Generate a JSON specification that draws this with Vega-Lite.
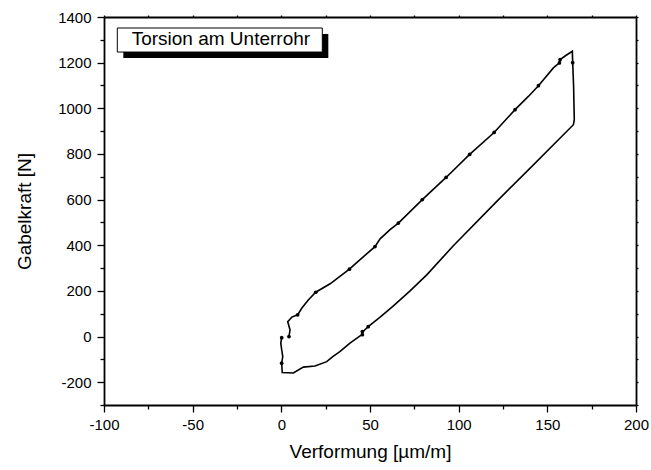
{
  "$schema": "https://vega.github.io/schema/vega-lite/v6.json",
  "width": 532,
  "height": 388,
  "autosize": {"type": "none"},
  "padding": {"left": 104, "top": 17, "right": 15, "bottom": 65},
  "background": "white",
  "config": {
    "view": {"stroke": null},
    "font": "Liberation Sans",
    "axis": {
      "domainColor": "black",
      "domainWidth": 1.8,
      "tickColor": "black",
      "tickWidth": 1.3,
      "labelColor": "black",
      "titleColor": "black",
      "labelFont": "Liberation Sans",
      "titleFont": "Liberation Sans",
      "labelFontSize": 15,
      "titleFontSize": 19,
      "titleFontWeight": "normal",
      "grid": false
    }
  },
  "datasets": {
    "loop": [
      {"i": 1, "x": 0.2, "y": -5, "dot": 1},
      {"i": 2, "x": -0.3, "y": -29, "dot": 0},
      {"i": 3, "x": 0.2, "y": -58, "dot": 0},
      {"i": 4, "x": 0.8, "y": -88, "dot": 0},
      {"i": 5, "x": 0.2, "y": -117, "dot": 1},
      {"i": 6, "x": 0.5, "y": -158, "dot": 0},
      {"i": 7, "x": 6.8, "y": -160, "dot": 0},
      {"i": 8, "x": 12.4, "y": -134, "dot": 0},
      {"i": 9, "x": 19, "y": -129, "dot": 0},
      {"i": 10, "x": 25.6, "y": -110, "dot": 0},
      {"i": 11, "x": 29, "y": -88, "dot": 0},
      {"i": 12, "x": 33, "y": -66, "dot": 0},
      {"i": 13, "x": 38.7, "y": -29, "dot": 0},
      {"i": 14, "x": 44.4, "y": 3, "dot": 0},
      {"i": 15, "x": 45.7, "y": 8, "dot": 1},
      {"i": 16, "x": 45.7, "y": 22, "dot": 1},
      {"i": 17, "x": 46.5, "y": 25, "dot": 0},
      {"i": 18, "x": 49, "y": 43, "dot": 1},
      {"i": 19, "x": 55.7, "y": 85, "dot": 0},
      {"i": 20, "x": 63.2, "y": 134, "dot": 0},
      {"i": 21, "x": 72.6, "y": 200, "dot": 0},
      {"i": 22, "x": 82, "y": 270, "dot": 0},
      {"i": 23, "x": 97, "y": 398, "dot": 0},
      {"i": 24, "x": 121.5, "y": 592, "dot": 0},
      {"i": 25, "x": 140.3, "y": 738, "dot": 0},
      {"i": 26, "x": 164.7, "y": 928, "dot": 0},
      {"i": 27, "x": 165.2, "y": 950, "dot": 0},
      {"i": 28, "x": 164.8, "y": 1100, "dot": 0},
      {"i": 29, "x": 164.3, "y": 1200, "dot": 1},
      {"i": 30, "x": 164.1, "y": 1250, "dot": 0},
      {"i": 31, "x": 160, "y": 1229, "dot": 0},
      {"i": 32, "x": 157.2, "y": 1213, "dot": 1},
      {"i": 33, "x": 156.8, "y": 1199, "dot": 1},
      {"i": 34, "x": 153.4, "y": 1177, "dot": 0},
      {"i": 35, "x": 145, "y": 1099, "dot": 1},
      {"i": 36, "x": 139.3, "y": 1052, "dot": 0},
      {"i": 37, "x": 131.8, "y": 994, "dot": 1},
      {"i": 38, "x": 120, "y": 894, "dot": 1},
      {"i": 39, "x": 106.2, "y": 798, "dot": 1},
      {"i": 40, "x": 92.9, "y": 697, "dot": 1},
      {"i": 41, "x": 79.5, "y": 600, "dot": 1},
      {"i": 42, "x": 66, "y": 497, "dot": 1},
      {"i": 43, "x": 61.3, "y": 468, "dot": 0},
      {"i": 44, "x": 55.7, "y": 428, "dot": 0},
      {"i": 45, "x": 52.8, "y": 394, "dot": 1},
      {"i": 46, "x": 42.5, "y": 324, "dot": 0},
      {"i": 47, "x": 38.4, "y": 295, "dot": 1},
      {"i": 48, "x": 27.5, "y": 231, "dot": 0},
      {"i": 49, "x": 19.4, "y": 194, "dot": 1},
      {"i": 50, "x": 15.2, "y": 160, "dot": 0},
      {"i": 51, "x": 11.5, "y": 124, "dot": 0},
      {"i": 52, "x": 9.2, "y": 95, "dot": 1},
      {"i": 53, "x": 5.9, "y": 85, "dot": 0},
      {"i": 54, "x": 3.6, "y": 65, "dot": 0},
      {"i": 55, "x": 4.9, "y": 29, "dot": 0},
      {"i": 56, "x": 4.3, "y": 0, "dot": 1}
    ],
    "note": [{"label": "Torsion am Unterrohr"}]
  },
  "resolve": {"axis": {"x": "independent", "y": "independent"}},
  "layer": [
    {
      "data": {"name": "loop"},
      "mark": {"type": "line", "color": "black", "strokeWidth": 1.6},
      "encoding": {
        "x": {
          "field": "x", "type": "quantitative",
          "scale": {"domain": [-100, 200], "nice": false, "zero": false},
          "axis": {
            "orient": "bottom",
            "title": "Verformung [µm/m]",
            "values": [-100, -75, -50, -25, 0, 25, 50, 75, 100, 125, 150, 175, 200],
            "labelExpr": "datum.value % 50 === 0 ? toString(datum.value) : ''",
            "tickSize": {"condition": {"test": "datum.value % 50 === 0", "value": 7}, "value": 4},
            "labelPadding": 5,
            "titlePadding": 10,
            "labelFlush": false
          }
        },
        "y": {
          "field": "y", "type": "quantitative",
          "scale": {"domain": [-300, 1400], "nice": false, "zero": false},
          "axis": {
            "orient": "left",
            "title": "Gabelkraft [N]",
            "values": [-300, -200, -100, 0, 100, 200, 300, 400, 500, 600, 700, 800, 900, 1000, 1100, 1200, 1300, 1400],
            "labelExpr": "datum.value % 200 === 0 ? toString(datum.value) : ''",
            "tickSize": {"condition": {"test": "datum.value % 200 === 0", "value": 7}, "value": 4},
            "labelPadding": 6,
            "titlePadding": 23,
            "labelFlush": false
          }
        },
        "order": {"field": "i", "type": "quantitative"}
      }
    },
    {
      "data": {"name": "loop"},
      "transform": [{"filter": "datum.dot === 1"}],
      "mark": {"type": "circle", "color": "black", "opacity": 1, "size": 14},
      "encoding": {
        "x": {
          "field": "x", "type": "quantitative",
          "axis": {
            "orient": "top", "title": null, "labels": false,
            "values": [-100, -75, -50, -25, 0, 25, 50, 75, 100, 125, 150, 175, 200],
            "tickSize": 2
          }
        },
        "y": {
          "field": "y", "type": "quantitative",
          "axis": {
            "orient": "right", "title": null, "labels": false,
            "values": [-300, -200, -100, 0, 100, 200, 300, 400, 500, 600, 700, 800, 900, 1000, 1100, 1200, 1300, 1400],
            "tickSize": 2
          }
        }
      }
    },
    {
      "data": {"name": "note"},
      "mark": {"type": "rect", "color": "black"},
      "encoding": {
        "x": {"datum": -89.1, "type": "quantitative", "axis": null},
        "x2": {"datum": 26.5},
        "y": {"datum": 1325.4, "type": "quantitative", "axis": null},
        "y2": {"datum": 1220.2}
      }
    },
    {
      "data": {"name": "note"},
      "mark": {"type": "rect", "fill": "white", "stroke": "black", "strokeWidth": 1},
      "encoding": {
        "x": {"datum": -92.5, "type": "quantitative", "axis": null},
        "x2": {"datum": 23.1},
        "y": {"datum": 1351.8, "type": "quantitative", "axis": null},
        "y2": {"datum": 1246.5}
      }
    },
    {
      "data": {"name": "note"},
      "mark": {"type": "text", "font": "Liberation Sans", "fontSize": 19, "color": "black", "align": "center", "baseline": "alphabetic"},
      "encoding": {
        "x": {"datum": -34.1, "type": "quantitative", "axis": null},
        "y": {"datum": 1278.5, "type": "quantitative", "axis": null},
        "text": {"field": "label"}
      }
    }
  ]
}
